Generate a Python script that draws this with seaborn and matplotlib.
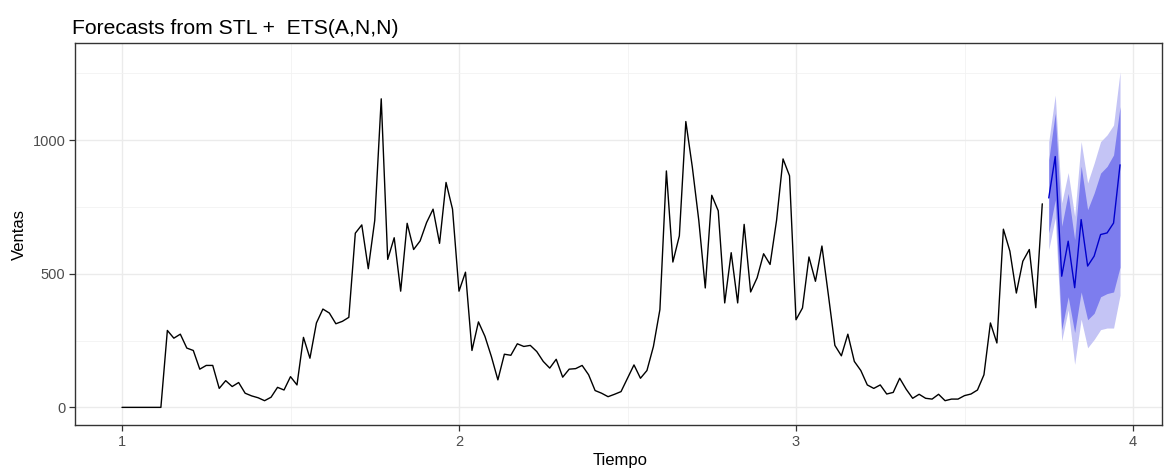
import numpy as np
import pandas as pd
import matplotlib
matplotlib.use("Agg")
import matplotlib.pyplot as plt
import seaborn as sns
from matplotlib.ticker import MultipleLocator

# ---------------- data ----------------
start_time = 1.0
frequency = 52

ventas = [0, 0, 0, 0, 0, 0, 0,
          288, 259, 274, 222, 213, 143, 157, 157, 71, 100, 78, 93, 53, 43, 36, 25, 38, 75, 65, 115, 84,
          262, 184, 316, 368, 353, 313, 322, 337, 652, 683, 519, 700, 1155, 554, 635, 435, 689, 591,
          623, 692, 742, 614, 842, 742, 435, 506, 213, 320,
          266, 190, 103, 199, 195, 238, 228, 232, 209, 172, 147, 180, 113, 143, 145, 157, 122, 63,
          53, 40, 49, 59, 109, 159, 109, 138, 228, 366,
          885, 544, 642, 1070, 900, 700, 447, 794, 736, 391, 579, 391, 685, 432, 485, 575, 535,
          700, 930, 867, 328, 372, 563, 472, 604, 420, 232,
          193, 274, 172, 138, 84, 71, 84, 50, 56, 109, 68, 34, 49, 34, 31, 49, 25, 31, 31, 44,
          50, 65, 122, 316, 241, 667, 585, 428, 547, 591, 373, 762]

fc_mean = [784, 939, 491, 622, 448, 703, 529, 566, 647, 653, 690, 908]
fc_up95 = [995, 1169, 765, 879, 715, 995, 840, 914, 995, 1020, 1057, 1256]
fc_up80 = [927, 1101, 678, 801, 628, 903, 740, 802, 877, 902, 945, 1126]
fc_lo80 = [653, 777, 290, 414, 280, 432, 328, 352, 414, 426, 432, 525]
fc_lo95 = [591, 709, 250, 365, 161, 330, 223, 254, 291, 297, 297, 420]

title = "Forecasts from STL +  ETS(A,N,N)"
xlabel = "Tiempo"
ylabel = "Ventas"

# ---------------- frames ----------------
n_hist = len(ventas)
hist = pd.DataFrame({"Tiempo": start_time + np.arange(n_hist) / frequency,
                     "Ventas": ventas})
fc = pd.DataFrame({"Tiempo": start_time + np.arange(n_hist, n_hist + len(fc_mean)) / frequency,
                   "mean": fc_mean, "up95": fc_up95, "lo95": fc_lo95,
                   "up80": fc_up80, "lo80": fc_lo80})

# ---------------- plot ----------------
sns.set_theme(style="white")
plt.rcParams["font.family"] = ["Liberation Sans", "DejaVu Sans"]

W, H = 1165, 470
fig = plt.figure(figsize=(W / 100, H / 100), dpi=100)
left, right, top, bottom = 75, 1162, 43, 425
ax = fig.add_axes([left / W, 1 - bottom / H, (right - left) / W, (bottom - top) / H])

ax.fill_between(fc["Tiempo"], fc["lo95"], fc["up95"], color="#C4C4F5", lw=0, zorder=2)
ax.fill_between(fc["Tiempo"], fc["lo80"], fc["up80"], color="#7D7DEE", lw=0, zorder=3)
sns.lineplot(data=hist, x="Tiempo", y="Ventas", ax=ax, color="black", lw=1.0, zorder=4)
sns.lineplot(data=fc, x="Tiempo", y="mean", ax=ax, color="#0000CC", lw=1.0, zorder=5)

ax.set_xlim(1 - 47 / 337, 1 + (right - 122) / 337)
ax.set_ylim(-66, 1364)

ax.xaxis.set_major_locator(MultipleLocator(1))
ax.xaxis.set_minor_locator(MultipleLocator(0.5))
ax.yaxis.set_major_locator(MultipleLocator(500))
ax.yaxis.set_minor_locator(MultipleLocator(250))
ax.grid(which="major", color="#EBEBEB", lw=1.0, zorder=0)
ax.grid(which="minor", color="#F2F2F2", lw=0.6, zorder=0)
ax.set_axisbelow(True)

for s in ax.spines.values():
    s.set_visible(True)
    s.set_color("#333333")
    s.set_linewidth(1.0)

ax.tick_params(which="major", axis="both", direction="out", length=4, width=0.9,
               color="#333333", labelcolor="#4D4D4D", labelsize=10.5, pad=3,
               bottom=True, left=True)
ax.tick_params(which="minor", length=0)
ax.set_xticks([1, 2, 3, 4])
ax.set_xticklabels(["1", "2", "3", "4"])

ax.set_xlabel("")
ax.set_ylabel("")
fig.text(620 / W, 1 - 460 / H, xlabel, ha="center", va="center", fontsize=12, color="black")
fig.text(19 / W, 1 - 234 / H, ylabel, ha="center", va="center", rotation=90, fontsize=12, color="black")
fig.text(72 / W, 1 - 34 / H, title, ha="left", va="baseline", fontsize=15.2, color="black")

fig.savefig("out.png", dpi=100)
